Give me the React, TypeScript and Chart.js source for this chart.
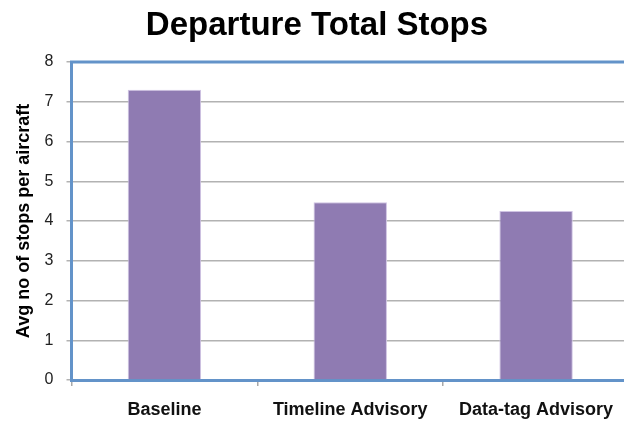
import React, { useEffect, useRef } from "react";
import { Chart, registerables } from "chart.js";

Chart.register(...registerables);

const categories = ["Baseline", "Timeline Advisory", "Data-tag Advisory"];
const avgStops = [7.3, 4.47, 4.25];
const yTicks = [0, 1, 2, 3, 4, 5, 6, 7, 8];

const FONT = "'Liberation Sans', Arial, sans-serif";
const BLUE = "#6393c9";

const topBorder = {
  id: "topBorder",
  afterDraw(chart: any) {
    const { ctx, chartArea } = chart;
    ctx.save();
    ctx.strokeStyle = BLUE;
    ctx.lineWidth = 3;
    ctx.beginPath();
    ctx.moveTo(chartArea.left - 1.5, chartArea.top);
    ctx.lineTo(chartArea.right + 2, chartArea.top);
    ctx.stroke();
    ctx.restore();
  },
};

export default function App() {
  const ref = useRef<HTMLCanvasElement>(null);
  useEffect(() => {
    if (!ref.current) return;
    const chart = new Chart(ref.current, {
      type: "bar",
      data: {
        labels: categories,
        datasets: [
          {
            data: avgStops,
            backgroundColor: "#8f7bb2",
            borderColor: "#cfc3e3",
            borderWidth: 1,
            barPercentage: 0.395,
            categoryPercentage: 1,
          },
        ],
      },
      plugins: [topBorder],
      options: {
        animation: false,
        responsive: true,
        maintainAspectRatio: false,
        layout: { padding: { left: 5, right: 0, top: 0, bottom: 0 } },
        plugins: {
          legend: { display: false },
          tooltip: { enabled: false },
          title: {
            display: true,
            text: "Departure Total Stops",
            color: "#000",
            font: { family: FONT, size: 33, weight: "bold" },
            padding: { top: 6, bottom: 16.4 },
          },
        },
        scales: {
          x: {
            grid: {
              display: true,
              drawOnChartArea: false,
              drawTicks: true,
              tickLength: 6,
              color: "#a8a8a8",
              lineWidth: 1.5,
            },
            border: { display: true, color: BLUE, width: 3 },
            ticks: {
              color: "#111",
              font: { family: FONT, size: 18, weight: "bold" },
              padding: 13,
            },
            afterFit(scale: any) {
              scale.height = 43;
            },
          },
          y: {
            min: 0,
            max: 8,
            afterBuildTicks(scale: any) {
              scale.ticks = yTicks.map((v) => ({ value: v }));
            },
            grid: {
              color: "#b2b2b2",
              lineWidth: 1.5,
              drawTicks: true,
              tickLength: 5,
            },
            border: { display: true, color: BLUE, width: 3 },
            ticks: {
              color: "#222",
              font: { family: FONT, size: 16 },
              padding: 13,
            },
            title: {
              display: true,
              text: "Avg no of stops per aircraft",
              color: "#000",
              font: { family: FONT, size: 18, weight: "bold" },
              padding: { top: 8.2, bottom: 0 },
            },
            afterFit(scale: any) {
              scale.width = 66.5;
            },
          },
        },
      },
    });
    return () => chart.destroy();
  }, []);
  return (
    <div
      style={{
        position: "fixed",
        left: 0,
        top: 0,
        width: 624,
        height: 423,
        overflow: "hidden",
        background: "#fff",
      }}
    >
      <div style={{ width: 629, height: 423, position: "relative" }}>
        <canvas ref={ref} />
      </div>
    </div>
  );
}
